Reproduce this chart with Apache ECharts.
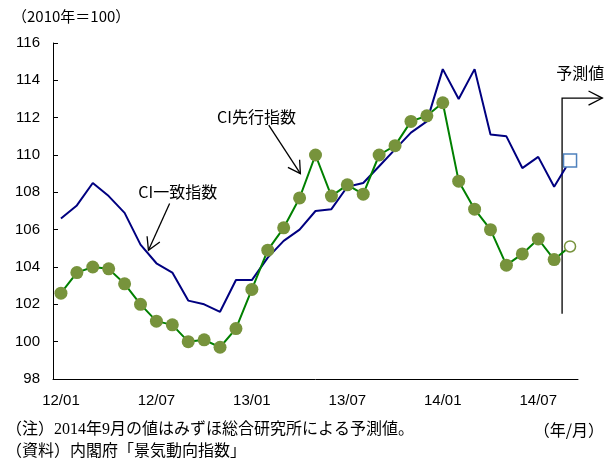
<!DOCTYPE html>
<html>
<head>
<meta charset="utf-8">
<script src="https://cdn.jsdelivr.net/npm/echarts@6/dist/echarts.min.js"></script>
<style>
  html, body { margin: 0; padding: 0; background: #fff; }
  #main { width: 606px; height: 468px; }
</style>
</head>
<body>
<div id="main"></div>
<script>
// 月次（2012/01〜2014/09）
var months = [
  "12/01","12/02","12/03","12/04","12/05","12/06","12/07","12/08","12/09","12/10","12/11","12/12",
  "13/01","13/02","13/03","13/04","13/05","13/06","13/07","13/08","13/09","13/10","13/11","13/12",
  "14/01","14/02","14/03","14/04","14/05","14/06","14/07","14/08","14/09"
];
// CI一致指数（最後の値は予測値）
var coincident = [
  106.6, 107.3, 108.5, 107.8, 106.9, 105.2, 104.2, 103.7, 102.2, 102.0, 101.6, 103.3,
  103.3, 104.5, 105.4, 106.0, 107.0, 107.1, 108.3, 108.5, 109.4, 110.3, 111.2, 111.8,
  114.6, 113.0, 114.6, 111.1, 111.0, 109.3, 109.9, 108.3, 109.7
];
// CI先行指数（最後の値は予測値）
var leading = [
  102.6, 103.7, 104.0, 103.9, 103.1, 102.0, 101.1, 100.9, 100.0, 100.1, 99.7, 100.7,
  102.8, 104.9, 106.1, 107.7, 110.0, 107.8, 108.4, 107.9, 110.0, 110.5, 111.8, 112.1,
  112.8, 108.6, 107.1, 106.0, 104.1, 104.7, 105.5, 104.4, 105.1
];
var yTicks = { min: 98, max: 116, step: 2 };
var forecastIndex = 32;

var sansFont = "'Liberation Sans', Arial, 'Noto Sans CJK JP', sans-serif";
var jpFont = "'Noto Sans CJK JP', sans-serif";
var noteFont = "'Liberation Serif', 'Noto Sans CJK JP', serif";

var myChart = echarts.init(document.getElementById('main'));

// 予測値だけ別の系列で白抜きマーカー
var coincidentFc = months.map(function (m, i) { return i === forecastIndex ? coincident[i] : '-'; });
var leadingFc = months.map(function (m, i) { return i === forecastIndex ? leading[i] : '-'; });
var leadingActual = leading.map(function (v, i) { return i === forecastIndex ? '-' : v; });

var option = {
    animation: false,
    backgroundColor: '#fff',
    grid: { left: 53, right: 28, top: 43, bottom: 89 },
    xAxis: {
        type: 'category',
        data: months,
        boundaryGap: true,
        axisLine: { lineStyle: { color: '#000', width: 1 } },
        axisTick: { inside: true, length: 5, interval: 5, lineStyle: { color: '#000' } },
        axisLabel: { interval: 5, color: '#000', fontSize: 15, fontFamily: sansFont, margin: 14 }
    },
    yAxis: {
        type: 'value',
        min: yTicks.min, max: yTicks.max, interval: yTicks.step,
        axisLine: { show: true, lineStyle: { color: '#000', width: 1 } },
        axisTick: { show: true, inside: true, length: 5, lineStyle: { color: '#000' } },
        axisLabel: { color: '#000', fontSize: 15, fontFamily: sansFont, margin: 13 },
        splitLine: { show: false }
    },
    series: [
        {
            name: 'CI一致指数',
            type: 'line',
            data: coincident,
            symbol: 'none',
            lineStyle: { color: '#000080', width: 2 },
            z: 2
        },
        {
            name: 'CI一致指数（予測）',
            type: 'scatter',
            data: coincidentFc,
            symbol: 'rect',
            symbolSize: 13,
            itemStyle: { color: '#fff', borderColor: '#4f81bd', borderWidth: 1.5, opacity: 1 },
            z: 3
        },
        {
            name: 'CI先行指数',
            type: 'line',
            data: leading,
            symbol: 'none',
            lineStyle: { color: '#008000', width: 2 },
            z: 4
        },
        {
            name: 'CI先行指数（点）',
            type: 'scatter',
            data: leadingActual,
            symbol: 'circle',
            symbolSize: 13,
            itemStyle: { color: '#77933c', opacity: 1 },
            z: 5
        },
        {
            name: 'CI先行指数（予測）',
            type: 'scatter',
            data: leadingFc,
            symbol: 'circle',
            symbolSize: 11,
            itemStyle: { color: '#fff', borderColor: '#77933c', borderWidth: 1.5, opacity: 1 },
            z: 5
        }
    ]
};
myChart.setOption(option);

// 注記は軸の座標から位置を出す（添字は小数も可）
var p0 = myChart.convertToPixel({ gridIndex: 0 }, [0, 100]);
var p1 = myChart.convertToPixel({ gridIndex: 0 }, [1, 100]);
var step = p1[0] - p0[0];
function px(i, v) {
    var y = myChart.convertToPixel({ gridIndex: 0 }, [0, v])[1];
    return [p0[0] + i * step, y];
}
function head(tip, from, len, deg) {
    var a = Math.atan2(from[1] - tip[1], from[0] - tip[0]);
    var r = deg * Math.PI / 180;
    return [
        [tip[0] + len * Math.cos(a + r), tip[1] + len * Math.sin(a + r)],
        tip,
        [tip[0] + len * Math.cos(a - r), tip[1] + len * Math.sin(a - r)]
    ];
}
function arrow(from, tip, len, deg) {
    return [
        { type: 'polyline', shape: { points: [from, tip] }, style: { stroke: '#000', lineWidth: 1.3, fill: null } },
        { type: 'polyline', shape: { points: head(tip, from, len, deg) }, style: { stroke: '#000', lineWidth: 1.3, fill: null } }
    ];
}

var g = [];
// 一致指数
var t1 = px(4.86, 108.0);
g.push({ type: 'text', x: t1[0], y: t1[1], style: { text: 'CI一致指数', font: '16px ' + jpFont, fill: '#000', verticalAlign: 'middle' } });
g = g.concat(arrow(px(6.83, 107.4), px(5.5, 104.9), 14, 30));
// 先行指数
var t2 = px(9.81, 112.04);
g.push({ type: 'text', x: t2[0], y: t2[1], style: { text: 'CI先行指数', font: '16px ' + jpFont, fill: '#000', verticalAlign: 'middle' } });
g = g.concat(arrow(px(13.06, 111.6), px(15.05, 109.0), 14, 30));
// 予測値
var fb = px(31.5, 101.5), ft = px(31.5, 113.05), fe = px(34.03, 113.05);
g.push({ type: 'polyline', shape: { points: [fb, ft, fe] }, style: { stroke: '#000', lineWidth: 1.3, fill: null } });
g.push({ type: 'polyline', shape: { points: head(fe, ft, 15.5, 27) }, style: { stroke: '#000', lineWidth: 1.3, fill: null } });
var t3 = px(32.64, 114.4);
g.push({ type: 'text', x: t3[0], y: t3[1], style: { text: '予測値', font: '16px ' + jpFont, fill: '#000', align: 'center', verticalAlign: 'middle' } });

// 単位・出所
g.push({ type: 'text', x: 12, y: 16, style: { text: '（2010年＝100）', font: '15px ' + jpFont, fill: '#000', verticalAlign: 'middle' } });
g.push({ type: 'text', x: 604, y: 430, style: { text: '（年/月）', font: '16px ' + jpFont, fill: '#000', align: 'right', verticalAlign: 'middle' } });
g.push({ type: 'text', x: 6, y: 430, style: { text: '（注）2014年9月の値はみずほ総合研究所による予測値。', font: '16px ' + noteFont, fill: '#000', verticalAlign: 'middle' } });
g.push({ type: 'text', x: 6, y: 452, style: { text: '（資料）内閣府「景気動向指数」', font: '16px ' + noteFont, fill: '#000', verticalAlign: 'middle' } });

myChart.setOption({ graphic: g });
</script>
</body>
</html>
